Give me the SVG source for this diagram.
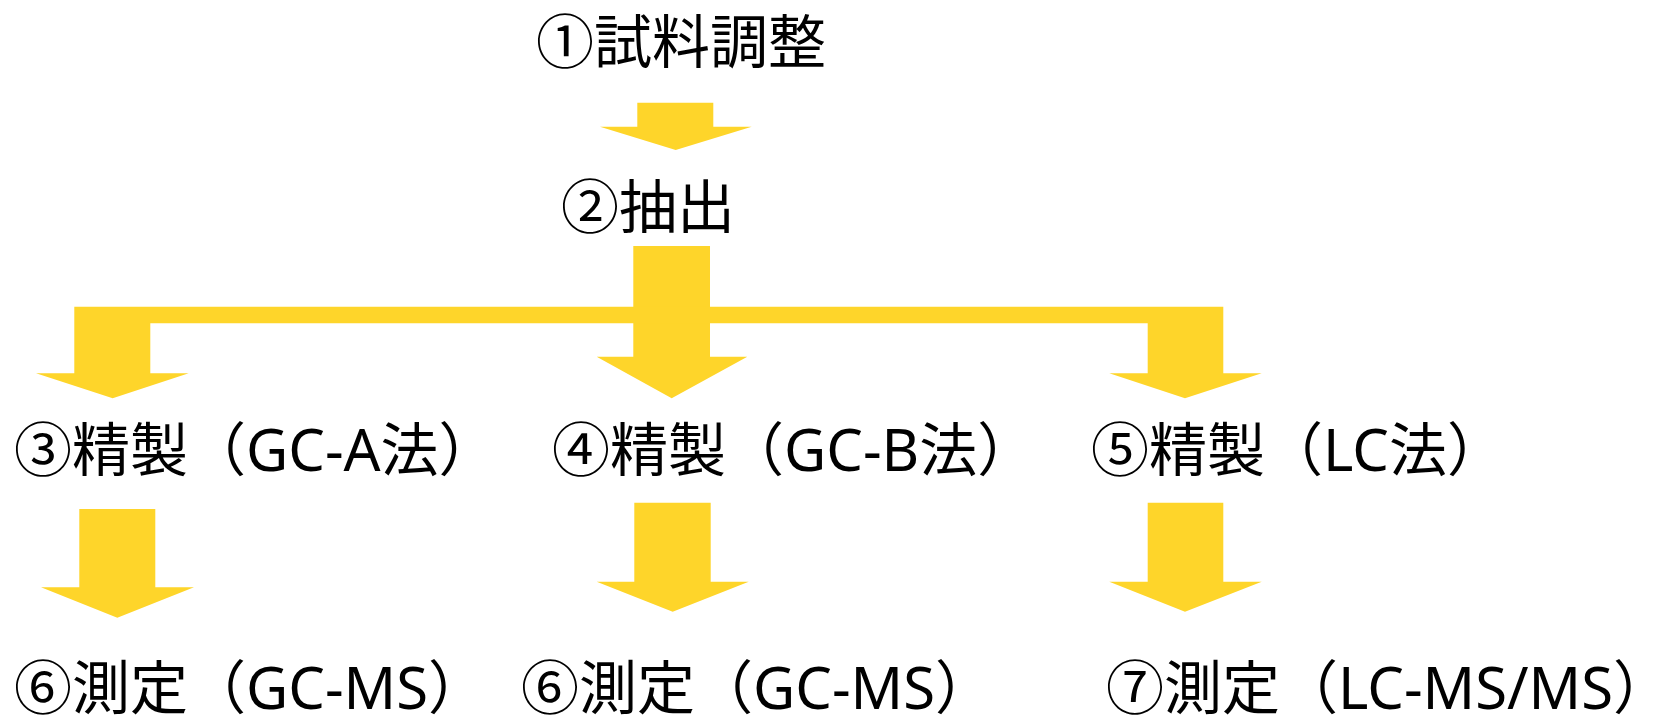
<svg xmlns="http://www.w3.org/2000/svg" width="1661" height="718" viewBox="0 0 1661 718">
<style>
.t{font-family:"Noto Sans","Noto Sans CJK JP",sans-serif;font-size:58px;fill:#000}
.a{fill:#FED52A}
</style>
<rect width="1661" height="718" fill="#fff"/>
<g id="connectors">
<polygon class="a" points="637.3,102.7 713.3,102.7 713.3,126.7 751.7,126.7 675.7,150 600,126.7 637.3,126.7"/>
<polygon class="a" points="633.3,246 710,246 710,356.7 747.3,356.7 671.7,398.3 596.7,356.7 633.3,356.7"/>
<polygon class="a" points="74.3,306.7 1223.3,306.7 1223.3,373.3 1261.7,373.3 1185,398.3 1109.3,373.3 1147.7,373.3 1147.7,323.3 150.3,323.3 150.3,373.3 188.7,373.3 112.7,398.3 36,373.3 74.3,373.3"/>
<polygon class="a" points="79.3,509 155.3,509 155.3,587.3 194,587.3 117.3,617.7 41,587.3 79.3,587.3"/>
<polygon class="a" points="634.3,502.7 710.7,502.7 710.7,581.7 748.7,581.7 672.7,611.7 596.7,581.7 634.3,581.7"/>
<polygon class="a" points="1147.7,502.7 1223.3,502.7 1223.3,581.7 1261.7,581.7 1185,611.7 1109.3,581.7 1147.7,581.7"/>
</g>
<g id="n1"><text class="t" x="536" y="63">①試料調整</text></g>
<g id="n2"><text class="t" x="561" y="228">②抽出</text></g>
<g id="n3"><text class="t" x="14" y="471">③精製（GC-A法）</text></g>
<g id="n4"><text class="t" x="552" y="471">④精製（GC-B法）</text></g>
<g id="n5"><text class="t" x="1091" y="471">⑤精製（LC法）</text></g>
<g id="n6a"><text class="t" x="14" y="709">⑥測定（GC-MS）</text></g>
<g id="n6b"><text class="t" x="521" y="709">⑥測定（GC-MS）</text></g>
<g id="n7"><text class="t" x="1106" y="709">⑦測定（LC-MS/MS）</text></g>
</svg>
